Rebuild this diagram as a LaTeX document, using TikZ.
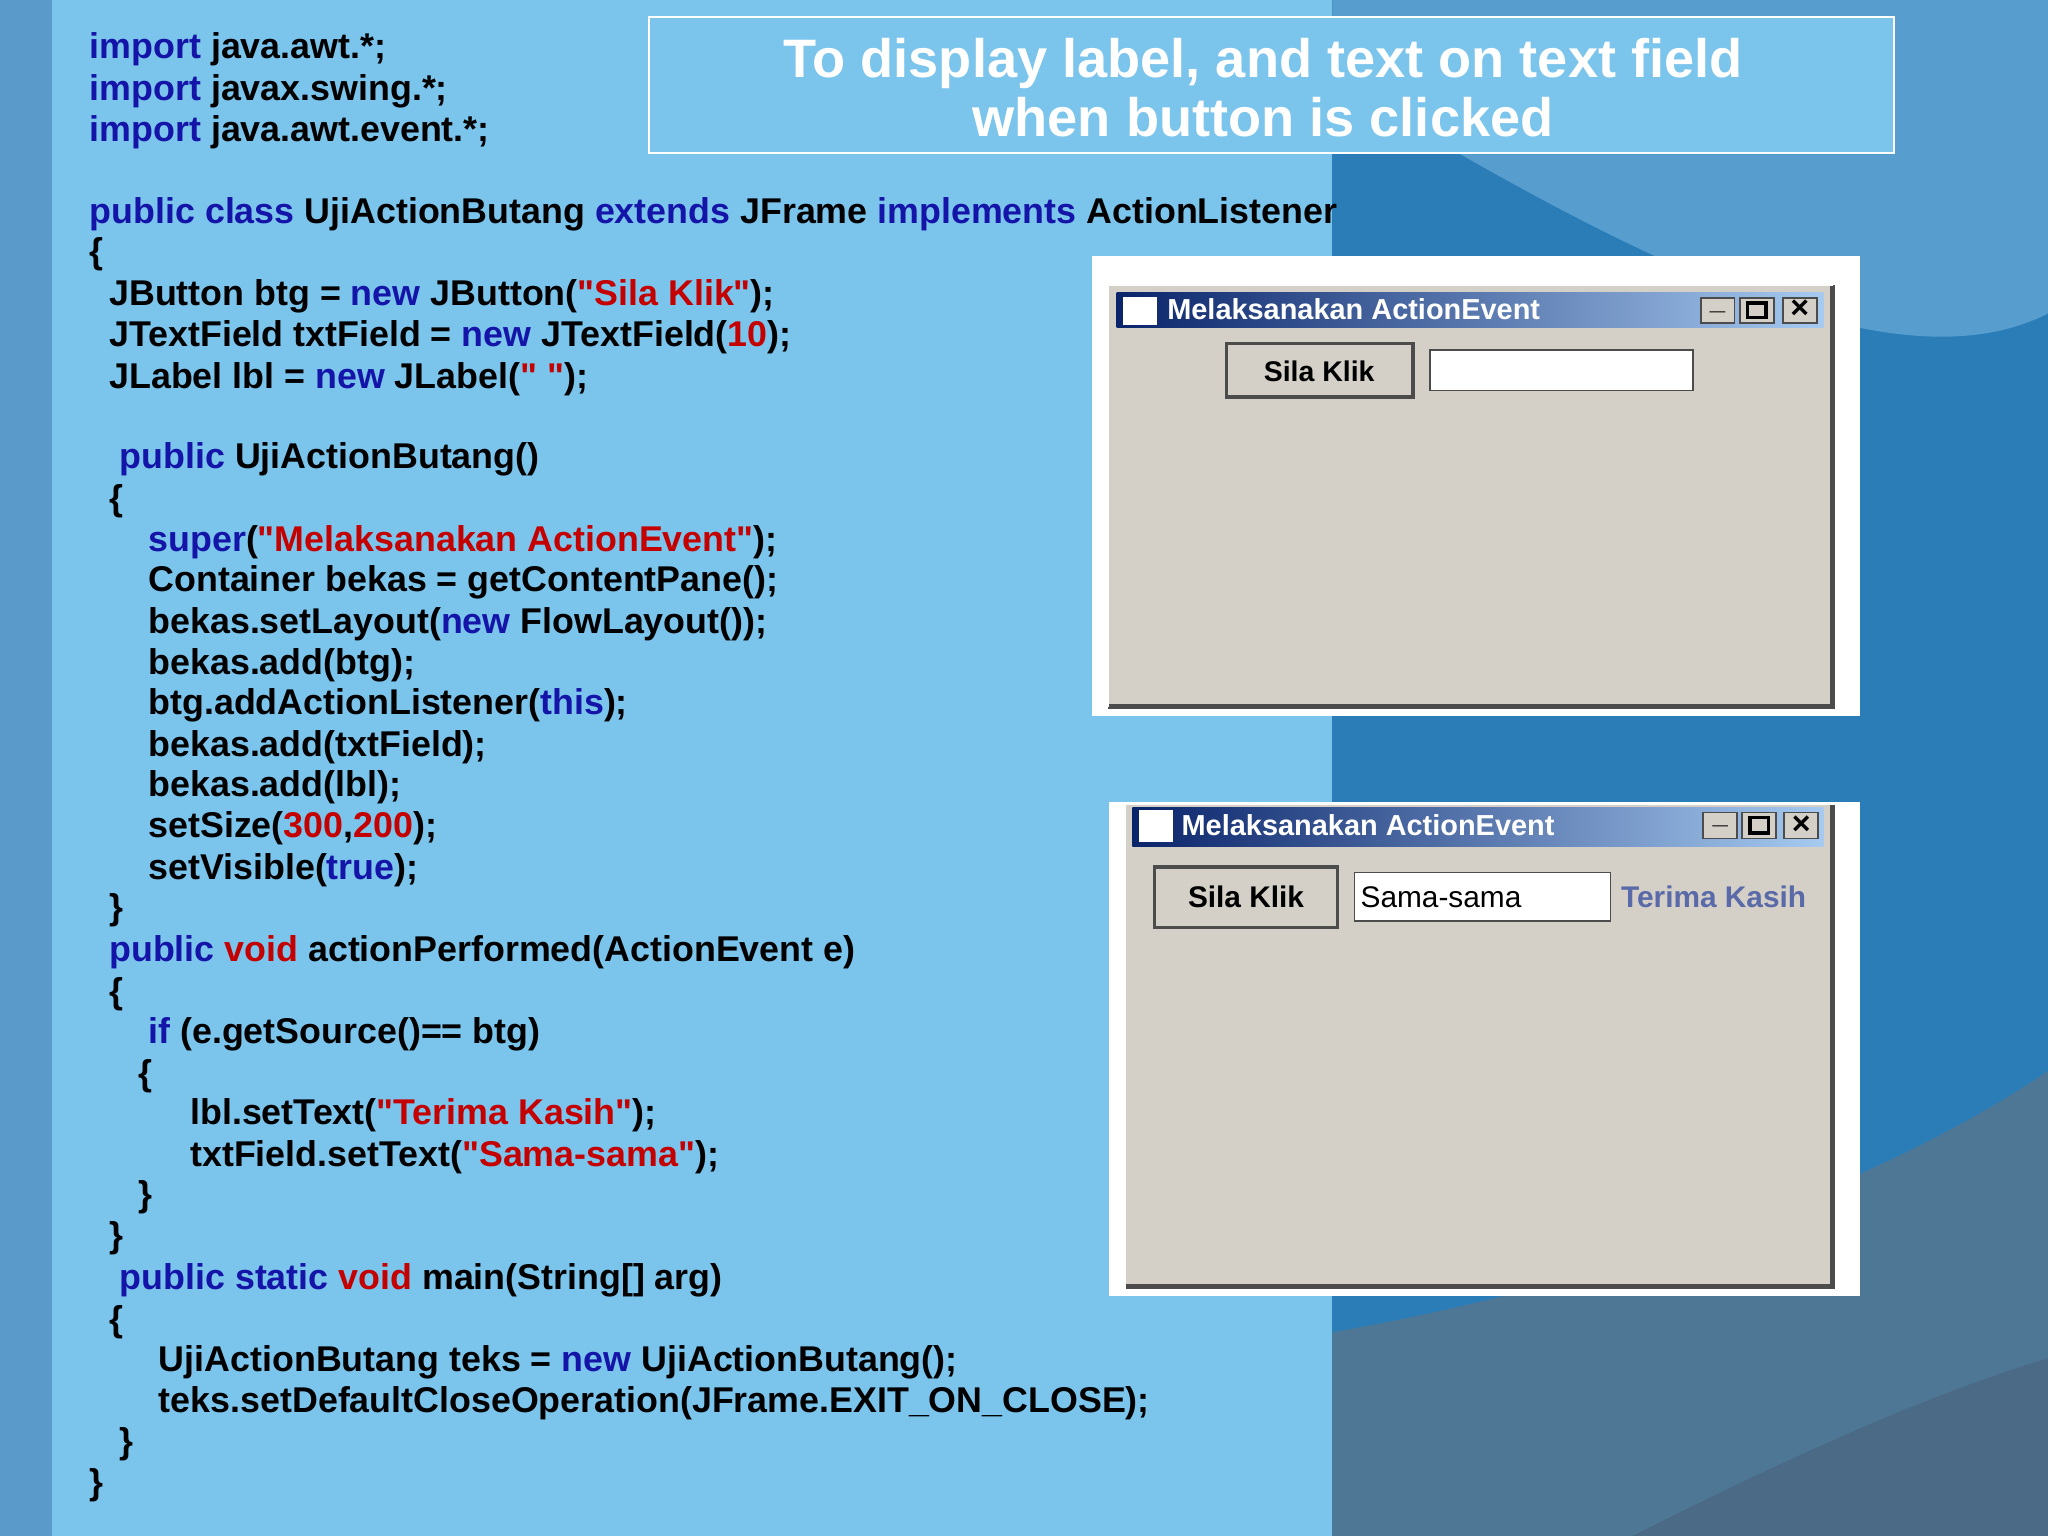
\documentclass[tikz,border=0pt]{standalone}
\usepackage{fontspec}
\setmainfont{Liberation Sans}
\newfontfamily\qf{Liberation Sans}
\begin{document}
\begin{tikzpicture}[x=0.1mm,y=-0.1mm,
  code/.style={anchor=west,inner sep=0pt,font=\fontsize{7.8}{10}\selectfont\bfseries},
  win/.style={font=\fontsize{5.8}{7}\selectfont,inner sep=0pt}]
\definecolor{bgblue}{HTML}{3A8DC6}
\definecolor{bgdark}{HTML}{2B7DB8}
\definecolor{bgg1}{HTML}{4E7796}
\definecolor{bgg2}{HTML}{4A6A85}
\definecolor{bgl}{HTML}{5A9ACB}
\definecolor{lblc}{HTML}{5A6AA8}
\definecolor{panel}{HTML}{7BC4EC}
\definecolor{kw}{HTML}{1414A8}
\definecolor{strc}{HTML}{C40000}
\definecolor{wgray}{HTML}{D4D0C8}
\definecolor{navy}{HTML}{0A246A}
\definecolor{tbl}{HTML}{A6CAF0}
\newcommand{\kw}[1]{\textcolor{kw}{#1}}
\newcommand{\st}[1]{\textcolor{strc}{#1}}
\newcommand{\q}{{\qf\symbol{34}}}
\useasboundingbox (0,0) rectangle (1568,1176);
\fill[bgblue] (0,0) rectangle (1568,1176);
\fill[bgdark] (1020,0) rectangle (1568,1176);
\fill[bgblue!85!white] (1020,60) .. controls (1250,200) and (1450,300) .. (1568,240) -- (1568,0) -- (1020,0) -- cycle;
\fill[bgg1] (1020,1020) .. controls (1250,980) and (1450,900) .. (1568,820) -- (1568,1176) -- (1020,1176) -- cycle;
\fill[bgg2] (1250,1176) .. controls (1400,1100) and (1500,1060) .. (1568,1040) -- (1568,1176) -- cycle;
\fill[bgl] (0,0) rectangle (40,1176);
\fill[panel] (40,0) rectangle (1020,1176);
% title
\draw[white,line width=0.5pt,fill=panel] (497,13) rectangle (1450,117);
\node[font=\fontsize{11.8}{14}\selectfont\bfseries,text=white,align=center] (title) at (967,67) {To display label, and text on text field\\[-1pt]when button is clicked};
% code
\node[code] (l1) at (68,38) {\kw{import} java.awt.*;};
\node[code] (l2) at (68,70) {\kw{import} javax.swing.*;};
\node[code] (l3) at (68,101) {\kw{import} java.awt.event.*;};
\node[code] (l4) at (68,164) {\kw{public class} UjiActionButang \kw{extends} JFrame \kw{implements} ActionListener};
\node[code] (l5) at (68,195) {\{};
\node[code] (l6) at (83,227) {JButton btg = \kw{new} JButton(\st{\q Sila Klik\q});};
\node[code] (l7) at (83,258) {JTextField txtField = \kw{new} JTextField(\st{10});};
\node[code] (l8) at (83,290) {JLabel lbl = \kw{new} JLabel(\st{\q\ \q});};
\node[code] (l9) at (91,352) {\kw{public} UjiActionButang()};
\node[code] (l10) at (83,384) {\{};
\node[code] (l11) at (113,415) {\kw{super}(\st{\q Melaksanakan ActionEvent\q});};
\node[code] (l12) at (113,446) {Container bekas = getContentPane();};
\node[code] (l13) at (113,478) {bekas.setLayout(\kw{new} FlowLayout());};
\node[code] (l14) at (113,509) {bekas.add(btg);};
\node[code] (l15) at (113,540) {btg.addActionListener(\kw{this});};
\node[code] (l16) at (113,572) {bekas.add(txtField);};
\node[code] (l17) at (113,603) {bekas.add(lbl);};
\node[code] (l18) at (113,634) {setSize(\st{300},\st{200});};
\node[code] (l19) at (113,666) {setVisible(\kw{true});};
\node[code] (l20) at (83,697) {\}};
\node[code] (l21) at (83,729) {\kw{public} \st{void} actionPerformed(ActionEvent e)};
\node[code] (l22) at (83,761) {\{};
\node[code] (l23) at (113,792) {\kw{if} (e.getSource()== btg)};
\node[code] (l24) at (105,824) {\{};
\node[code] (l25) at (145,854) {lbl.setText(\st{\q Terima Kasih\q});};
\node[code] (l26) at (145,886) {txtField.setText(\st{\q Sama-sama\q});};
\node[code] (l27) at (105,917) {\}};
\node[code] (l28) at (83,948) {\}};
\node[code] (l29) at (91,980) {\kw{public static} \st{void} main(String[] arg)};
\node[code] (l30) at (83,1012) {\{};
\node[code] (l31) at (121,1043) {UjiActionButang teks = \kw{new} UjiActionButang();};
\node[code] (l32) at (121,1074) {teks.setDefaultCloseOperation(JFrame.EXIT\_ON\_CLOSE);};
\node[code] (l33) at (91,1106) {\}};
\node[code] (l34) at (68,1137) {\}};
% window 1
\fill[white] (836,196) rectangle (1424,548);
\fill[wgray] (848,218) rectangle (1403,541);
\draw[black!70,line width=1.2pt] (848,541) -- (1403,541) -- (1403,218);
\draw[white,line width=0.6pt] (848,541) -- (848,218) -- (1403,218);
\shade[left color=navy,right color=tbl] (855,224) rectangle (1396,251);
\node[win,anchor=west,text=white,font=\fontsize{6.3}{7}\selectfont\bfseries] (t1) at (893,237) {Melaksanakan ActionEvent};
\fill[white] (860,227) rectangle (886,249);
\foreach \x in {1302,1332,1365}{\draw[fill=wgray,draw=black!70] (\x,228) rectangle ++(26,19);}
\node[win,font=\fontsize{6}{7}\selectfont\bfseries] at (1315,238) {\_};
\draw[black,line width=0.8pt] (1338,232) rectangle (1352,243);
\node[win,font=\fontsize{7}{7}\selectfont\bfseries] at (1378,237) {×};
\draw[fill=wgray,draw=black!70,line width=0.8pt] (939,263) rectangle (1082,304);
\node[win,font=\fontsize{6.2}{7}\selectfont\bfseries] (b1) at (1010,284) {Sila Klik};
\draw[fill=white,draw=black!70] (1095,268) rectangle (1296,299);
% window 2
\fill[white] (849,614) rectangle (1424,992);
\fill[wgray] (862,616) rectangle (1403,985);
\draw[black!70,line width=1.2pt] (862,985) -- (1403,985) -- (1403,616);
\shade[left color=navy,right color=tbl] (867,618) rectangle (1396,648);
\fill[white] (872,620) rectangle (898,645);
\node[win,anchor=west,text=white,font=\fontsize{6.3}{7}\selectfont\bfseries] (t2) at (904,632) {Melaksanakan ActionEvent};
\foreach \x in {1304,1334,1366}{\draw[fill=wgray,draw=black!70] (\x,622) rectangle ++(26,20);}
\node[win,font=\fontsize{6}{7}\selectfont\bfseries] at (1317,632) {\_};
\draw[black,line width=0.8pt] (1340,626) rectangle (1354,638);
\node[win,font=\fontsize{7}{7}\selectfont\bfseries] at (1379,632) {×};
\draw[fill=wgray,draw=black!70,line width=0.8pt] (884,664) rectangle (1024,710);
\node[win,font=\fontsize{6.5}{7}\selectfont\bfseries] (b2) at (954,687) {Sila Klik};
\draw[fill=white,draw=black!70] (1037,668) rectangle (1233,705);
\node[win,anchor=west,font=\fontsize{6.5}{7}\selectfont] (tf2) at (1041,687) {Sama-sama};
\node[win,text=lblc,font=\fontsize{6.5}{7}\selectfont\bfseries] (lb2) at (1312,687) {Terima Kasih};
\end{tikzpicture}
\end{document}
